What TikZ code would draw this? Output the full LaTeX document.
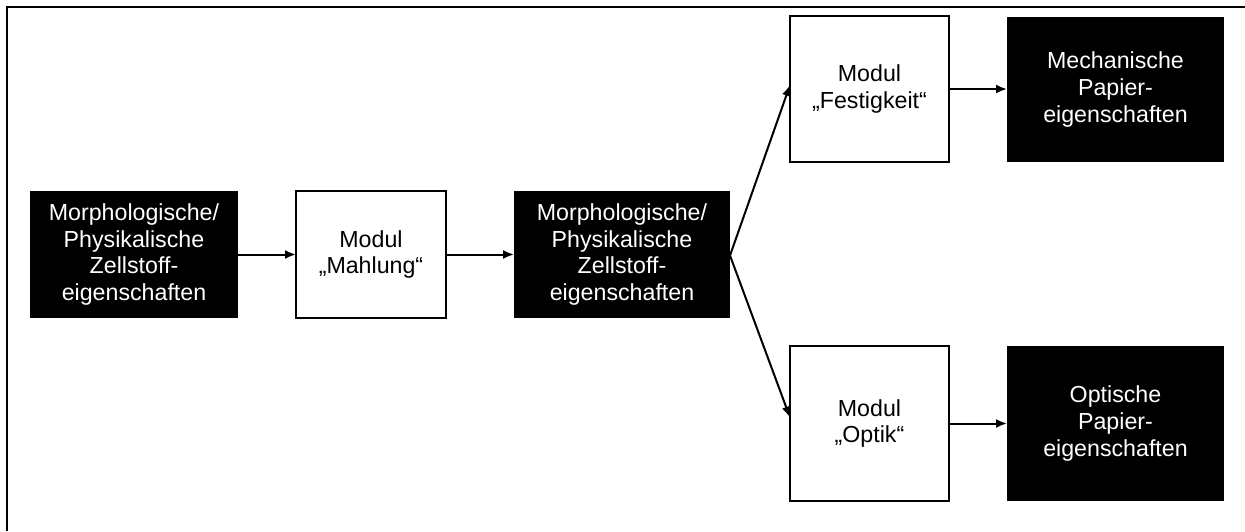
\documentclass[tikz,border=0pt]{standalone}
\usepackage{fontspec}
\setmainfont{Liberation Sans}
\usetikzlibrary{arrows.meta}
\tikzset{
  base/.style={inner sep=0pt, outer sep=0pt, align=center,
    font=\fontsize{23.2}{26.7}\selectfont},
  darkbox/.style={base, fill=black, text=white},
  modbox/.style={base, draw=black, line width=1.8pt, fill=white},
  conn/.style={line width=2pt, -{Latex[length=11pt,width=9pt]}},
}
\begin{document}
\begin{tikzpicture}[x=1pt,y=-1pt]
\useasboundingbox (0,0) rectangle (1245,531);
\coordinate (fa) at (7,531);
\coordinate (fb) at (7,7);
\coordinate (fc) at (1245,7);
\draw[line width=2.8pt] (fa) -- (fb) -- (fc);

\node[darkbox, minimum width=208pt, minimum height=127pt] (b1) at (134,254.5)
  {Morphologische/\\Physikalische\\Zellstoff-\\eigenschaften};
\node[modbox, minimum width=150pt, minimum height=127pt] (b2) at (371,254.5)
  {Modul\\„Mahlung“};
\node[darkbox, minimum width=216pt, minimum height=127pt] (b3) at (622,254.5)
  {Morphologische/\\Physikalische\\Zellstoff-\\eigenschaften};
\node[modbox, minimum width=159pt, minimum height=146pt] (b4) at (869.5,89)
  {Modul\\„Festigkeit“};
\node[modbox, minimum width=159pt, minimum height=155pt] (b5) at (869.5,423.5)
  {Modul\\„Optik“};
\node[darkbox, minimum width=217pt, minimum height=145pt] (b6) at (1115.5,89.5)
  {Mechanische\\Papier-\\eigenschaften};
\node[darkbox, minimum width=217pt, minimum height=155pt] (b7) at (1115.5,423.5)
  {Optische\\Papier-\\eigenschaften};

\draw[conn] (b1.east) -- (b2.west);
\draw[conn] (b2.east) -- (b3.west);
\draw[conn] ([yshift=-1pt]b3.east) -- ([yshift=4pt]b4.west);
\draw[conn] ([yshift=-1pt]b3.east) -- ([yshift=6pt]b5.west);
\draw[conn] (b4.east) -- (b6.west |- b4.east);
\draw[conn] (b5.east) -- (b7.west |- b5.east);
\end{tikzpicture}
\end{document}
